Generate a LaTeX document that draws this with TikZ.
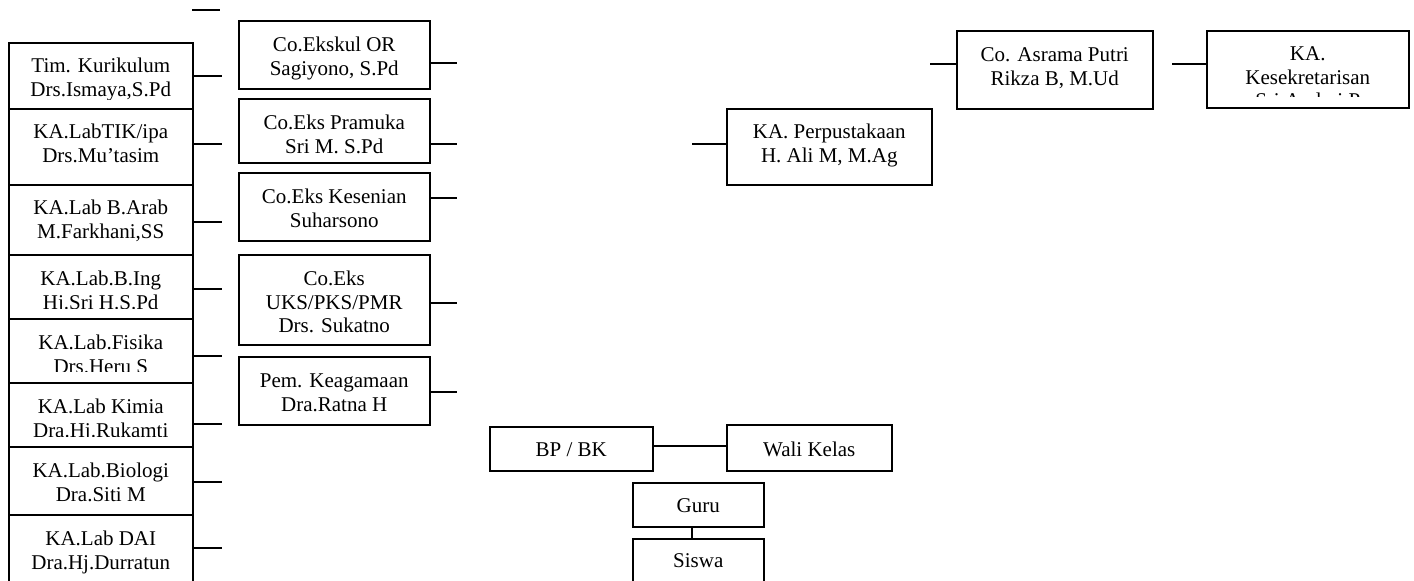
\documentclass[tikz,border=0pt]{standalone}
\usepackage{fontspec}
\setmainfont{Liberation Serif}
\pgfkeys{/tikz/cinset/.initial=0pt, /tikz/boff/.initial=31, /tikz/lines/.initial=2}
\tikzset{
  box/.style={draw, line width=1.5pt, rectangle, inner sep=0pt, anchor=north west},
  txt/.style={anchor=base, align=center, inner sep=0pt, font=\fontsize{21}{23.5}\selectfont},
  lbl/.style={path picture={
    \clip (path picture bounding box.north west) rectangle ([yshift=\pgfkeysvalueof{/tikz/cinset}]path picture bounding box.south east);
    \pgfmathsetmacro\bshift{\pgfkeysvalueof{/tikz/boff}+(\pgfkeysvalueof{/tikz/lines}-1)*23.5}
    \node[txt] at ([yshift=-\bshift pt]path picture bounding box.north) {#1};}},
  conn/.style={draw, line width=1.5pt},
}
\begin{document}
\begin{tikzpicture}[x=1pt, y=-1pt]
\useasboundingbox (0,0) rectangle (1414,581);
\clip (0,0) rectangle (1414,581);
% left column
\node[box, minimum width=184pt, minimum height=66pt, cinset=9pt, boff=30, lbl={Tim. Kurikulum\\Drs.Ismaya,S.Pd}] (tim) at (8,42) {};
\node[box, minimum width=184pt, minimum height=76pt, boff=30, lbl={KA.LabTIK/ipa\\Drs.Mu’tasim}] (tik) at (8,108) {};
\node[box, minimum width=184pt, minimum height=70pt, boff=30, lbl={KA.Lab B.Arab\\M.Farkhani,SS}] (arab) at (8,184) {};
\node[box, minimum width=184pt, minimum height=64pt, cinset=10pt, lbl={KA.Lab.B.Ing\\Hj.Sri H.S.Pd}] (bing) at (8,254) {};
\node[box, minimum width=184pt, minimum height=64pt, cinset=11pt, lbl={KA.Lab.Fisika\\Drs.Heru S}] (fis) at (8,318) {};
\node[box, minimum width=184pt, minimum height=64pt, cinset=10pt, lbl={KA.Lab Kimia\\Dra.Hj.Rukamti}] (kim) at (8,382) {};
\node[box, minimum width=184pt, minimum height=68pt, lbl={KA.Lab.Biologi\\Dra.Siti M}] (bio) at (8,446) {};
\node[box, minimum width=184pt, minimum height=80pt, lbl={KA.Lab DAI\\Dra.Hj.Durratun}] (dai) at (8,514) {};
% middle column
\node[box, minimum width=191pt, minimum height=68pt, lbl={Co.Ekskul OR\\Sagiyono, S.Pd}] (or) at (238,20) {};
\node[box, minimum width=191pt, minimum height=64pt, cinset=9pt, lbl={Co.Eks Pramuka\\Sri M. S.Pd}] (pram) at (238,98) {};
\node[box, minimum width=191pt, minimum height=68pt, lbl={Co.Eks Kesenian\\Suharsono}] (kes) at (238,172) {};
\node[box, minimum width=191pt, minimum height=90pt, lines=3, lbl={Co.Eks\\UKS/PKS/PMR\\Drs. Sukatno}] (uks) at (238,254) {};
\node[box, minimum width=191pt, minimum height=68pt, lbl={Pem. Keagamaan\\Dra.Ratna H}] (pem) at (238,356) {};
% right
\node[box, minimum width=205pt, minimum height=76pt, boff=30, lbl={KA. Perpustakaan\\H. Ali M, M.Ag}] (perp) at (726,108) {};
\node[box, minimum width=196pt, minimum height=78pt, lbl={Co. Asrama Putri\\Rikza B, M.Ud}] (asr) at (956,30) {};
\node[box, minimum width=202pt, minimum height=77pt, boff=30, lines=3, cinset=11pt, lbl={KA.\\Kesekretarisan\\Sri Andari P}] (sek) at (1206,30) {};
% bottom
\node[box, minimum width=163pt, minimum height=44pt, boff=30, lines=1, lbl={BP / BK}] (bp) at (489,426) {};
\node[box, minimum width=165pt, minimum height=46pt, boff=32, lines=1, lbl={Wali Kelas}] (wali) at (726,424) {};
\node[box, minimum width=131pt, minimum height=44pt, boff=30, lines=1, lbl={Guru}] (guru) at (632,482) {};
\node[box, minimum width=131pt, minimum height=60pt, boff=29, lines=1, lbl={Siswa}] (siswa) at (632,538) {};
% free ends
\coordinate (top1) at (192,10);
\draw[conn] (top1) -- ++(28,0);
\foreach \n/\y in {tim/76, tik/144, arab/222, bing/289, fis/356, kim/424, bio/482, dai/548}
  \draw[conn] (\n.east |- 0,\y) -- ++(28,0);
\foreach \n/\y in {or/63, pram/144, kes/198, uks/303, pem/392}
  \draw[conn] (\n.east |- 0,\y) -- ++(26,0);
\draw[conn] (perp.west |- 0,144) -- ++(-34,0);
\draw[conn] (asr.west |- 0,64) -- ++(-26,0);
\draw[conn] (sek.west |- 0,64) -- ++(-34,0);
\draw[conn] (bp.east |- 0,446) -- (wali.west |- 0,446);
\draw[conn] (guru.south -| 692,0) -- (siswa.north -| 692,0);
\end{tikzpicture}
\end{document}
